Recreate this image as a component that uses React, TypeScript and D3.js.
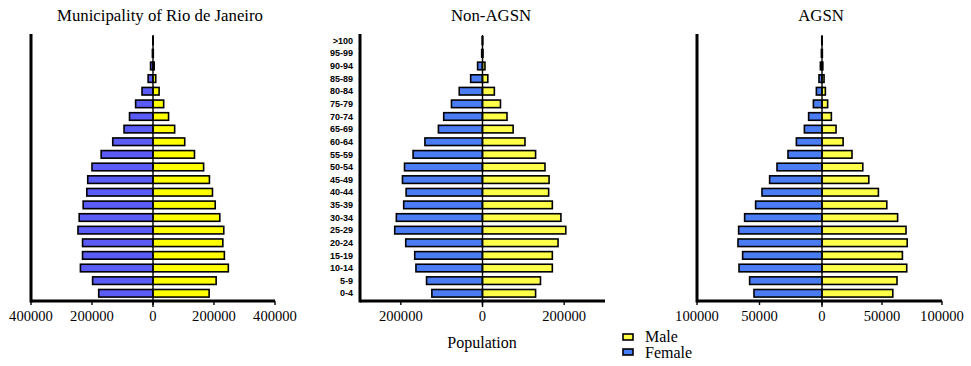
import React from "react";
import * as d3 from "d3";

const ages = ["0-4","5-9","10-14","15-19","20-24","25-29","30-34","35-39","40-44","45-49","50-54","55-59","60-64","65-69","70-74","75-79","80-84","85-89","90-94","95-99",">100"];

const rioFemale = [178000,198000,238000,231000,231000,246000,242000,229000,217000,214000,200000,170000,132000,95000,77000,57000,36000,16000,8000,2000,500];
const rioMale = [184000,207000,247000,234000,229000,232000,219000,204000,195000,185000,166000,136000,104000,71000,51000,35000,20000,9000,4000,1000,300];

const nonFemale = [124000,137000,163000,166000,188000,215000,211000,193000,187000,196000,191000,170000,141000,108000,95000,76000,57000,29000,12000,2000,500];
const nonMale = [130000,142000,171000,171000,185000,204000,192000,171000,162000,163000,153000,130000,104000,75000,60000,44000,29000,13000,6000,1000,300];

const agsnFemale = [54400,57900,66400,63500,67200,66700,61900,53100,48000,41900,36000,27200,20500,14100,10700,6900,4500,2400,1300,500,200];
const agsnMale = [59000,62500,70600,67000,71000,70000,63000,54000,47000,39000,34000,25000,17600,11700,7800,4700,2800,1700,700,300,100];

const titles = ["Municipality of Rio de Janeiro", "Non-AGSN", "AGSN"];
const rioTicks = [-400000, -200000, 0, 200000, 400000];
const nonTicks = [-200000, 0, 200000];
const agsnTicks = [-100000, -50000, 0, 50000, 100000];

type Panel = {
  title: string; titleX: number;
  female: number[]; male: number[];
  max: number; ticks: number[];
  left: number; zero: number; right: number;
  fColor: string; mColor: string; ageLabels: boolean;
};

const panels: Panel[] = [
  { title: titles[0], titleX: 160, female: rioFemale, male: rioMale, max: 400000, ticks: rioTicks, left: 31, zero: 153, right: 275, fColor: "#5b5bf5", mColor: "#ffff00", ageLabels: false },
  { title: titles[1], titleX: 491, female: nonFemale, male: nonMale, max: 300000, ticks: nonTicks, left: 360, zero: 482.5, right: 605, fColor: "#4a7cf4", mColor: "#ffff4a", ageLabels: true },
  { title: titles[2], titleX: 821, female: agsnFemale, male: agsnMale, max: 100000, ticks: agsnTicks, left: 697, zero: 822, right: 942, fColor: "#4a7cf4", mColor: "#ffff4a", ageLabels: false },
];

const top = 34.4;
const bottom = 299.6;
const axisY = 301;
const serifStyle = { fontFamily: "Liberation Serif" };
const sansStyle = { fontFamily: "Liberation Sans", fontWeight: 700 as const };

const y = d3.scaleBand<string>().domain([...ages].reverse()).range([top, bottom]).paddingInner(0.4).paddingOuter(0.2);

function PanelView({ p }: { p: Panel }) {
  const x = d3.scaleLinear().domain([-p.max, 0, p.max]).range([p.left, p.zero, p.right]);
  return (
    <g>
      <text x={p.titleX} y={20.5} textAnchor="middle" style={serifStyle} fontSize={16.8} fill="#000">{p.title}</text>
      {ages.map((a, i) => {
        const yy = y(a)!;
        const h = y.bandwidth();
        const fx = x(-p.female[i]);
        const mx = x(p.male[i]);
        return (
          <g key={a}>
            <rect x={fx} y={yy} width={p.zero - fx} height={h} fill={p.fColor} stroke="#000" strokeWidth={1.6} />
            <rect x={p.zero} y={yy} width={mx - p.zero} height={h} fill={p.mColor} stroke="#000" strokeWidth={1.6} />
            {p.ageLabels && (
              <text x={353} y={yy + h / 2} dy="0.35em" textAnchor="end" style={sansStyle} fontSize={9} fill="#000">{a}</text>
            )}
          </g>
        );
      })}
      <line x1={p.zero} x2={p.zero} y1={35} y2={axisY + 6} stroke="#000" strokeWidth={1.4} />
      <line x1={p.left} x2={p.left} y1={34} y2={axisY + 1.5} stroke="#000" strokeWidth={3} />
      <line x1={p.left} x2={p.right} y1={axisY} y2={axisY} stroke="#000" strokeWidth={3} />
      {p.ticks.map((t) => (
        <g key={t}>
          <line x1={x(t)} x2={x(t)} y1={axisY} y2={axisY + 4} stroke="#000" strokeWidth={1.4} />
          <text x={x(t)} y={321} textAnchor="middle" style={serifStyle} fontSize={14.6} fill="#000">{Math.abs(t)}</text>
        </g>
      ))}
    </g>
  );
}

export default function App() {
  return (
    <svg width={971} height={366} style={{ position: "absolute", left: 0, top: 0, background: "#fff" }}>
      <rect width={971} height={366} fill="#fff" />
      {panels.map((p) => <PanelView key={p.title} p={p} />)}
      <text x={482} y={348} textAnchor="middle" style={serifStyle} fontSize={16} fill="#000">Population</text>
      <rect x={623} y={334} width={10} height={6} fill="#ffff4a" stroke="#000" strokeWidth={1.6} />
      <text x={645} y={342} style={serifStyle} fontSize={16} fill="#000">Male</text>
      <rect x={623} y={349} width={10} height={6} fill="#4a7cf4" stroke="#000" strokeWidth={1.6} />
      <text x={645} y={357.5} style={serifStyle} fontSize={16} fill="#000">Female</text>
    </svg>
  );
}
